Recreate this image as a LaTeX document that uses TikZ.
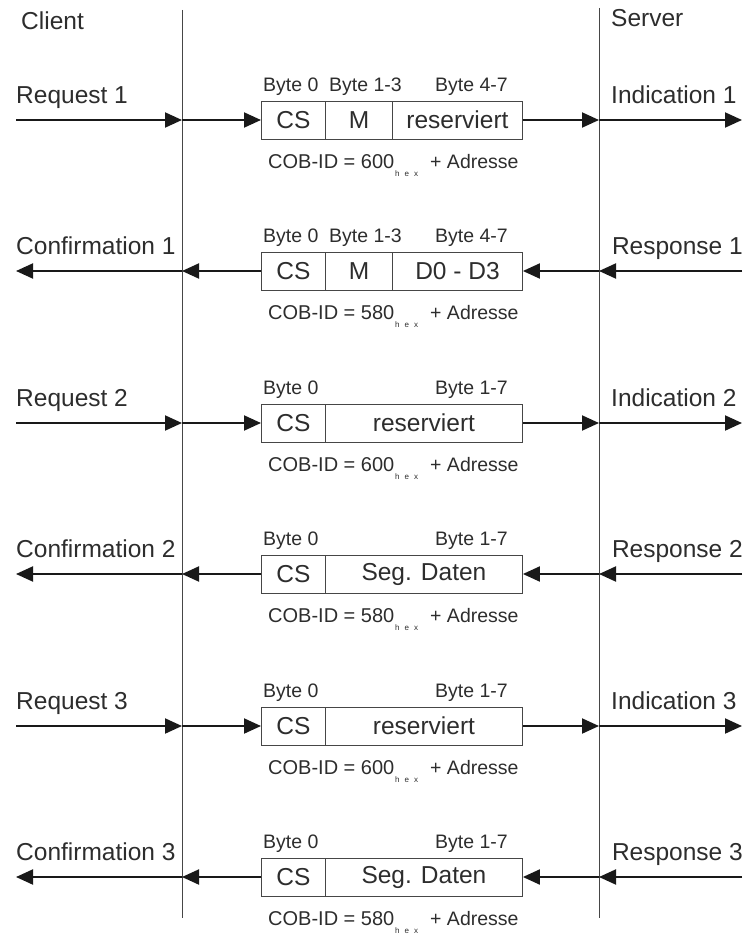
\documentclass[tikz,border=0pt]{standalone}
\usepackage{fontspec}
\setmainfont{Liberation Sans}
\usetikzlibrary{arrows.meta}
\definecolor{ink}{RGB}{45,45,45}
\definecolor{rule}{RGB}{70,70,70}
\definecolor{arrowink}{RGB}{25,25,25}
\begin{document}
\begin{tikzpicture}[x=1pt,y=-1pt,
  big/.style={font=\fontsize{24.5}{28}\selectfont, text=ink, inner sep=0pt},
  small/.style={font=\fontsize{19.5}{23}\selectfont, text=ink, inner sep=0pt},
  cobtext/.style={font=\fontsize{20}{24}\selectfont, text=ink, inner sep=0pt},
  tiny/.style={font=\fontsize{8}{9}\selectfont, text=ink, inner sep=0pt},
  cell/.style={draw=rule, line width=0.9pt, minimum height=38pt, inner sep=0pt,
    font=\fontsize{24.5}{28}\selectfont, text=ink, anchor=west},
  lifeline/.style={draw=rule, line width=1pt},
  msg/.style={draw=arrowink, line width=2pt,
    -{Triangle[length=17pt,width=15pt]}}]
\useasboundingbox (0,0) rectangle (746,934);

% party names and life lines
\node[big, anchor=base west] (client) at (21,30) {Client};
\node[big, anchor=base west] (server) at (611,27) {Server};
\coordinate (ctop) at (182,10);
\coordinate (cbot) at (182,918);
\coordinate (stop) at (599,8);
\coordinate (sbot) at (599,918);
\draw[lifeline] (ctop) -- (cbot);
\draw[lifeline] (stop) -- (sbot);

% parts shared by every message frame
\foreach \n/\y/\cob in {1/120/600, 2/271/580, 3/423/600, 4/574/580, 5/726/600, 6/877/580} {
  \coordinate (L\n) at (182,\y);
  \coordinate (R\n) at (599,\y);
  \coordinate (lo\n) at (16,\y);
  \coordinate (ro\n) at (742,\y);
  \node[cell, minimum width=64pt] (cs\n) at (261,\y) {CS};
  \node[small, anchor=base west] (bz\n) at (263,{\y-29}) {Byte 0};
  \node[cobtext, anchor=base west] (cob\n) at (268,{\y+48}) {COB-ID = \cob};
  \node[tiny, anchor=base west] (hex\n) at (395,{\y+56}) {h\hspace{5pt}e\hspace{5pt}x};
  \node[small, anchor=base west] (adr\n) at (430,{\y+48}) {+ Adresse};
}

% frames with command specifier, multiplexer and data
\node[cell, minimum width=67pt] (m1) at (325,120) {M};
\node[cell, minimum width=130pt] (d1) at (392,120) {reserviert};
\node[cell, minimum width=67pt] (m2) at (325,271) {M};
\node[cell, minimum width=130pt] (d2) at (392,271) {D0 - D3};
\node[small, anchor=base west] (bma) at (329,91) {Byte 1-3};
\node[small, anchor=base east] (bda) at (508,91) {Byte 4-7};
\node[small, anchor=base west] (bmb) at (329,242) {Byte 1-3};
\node[small, anchor=base east] (bdb) at (508,242) {Byte 4-7};

% segment frames
\node[cell, minimum width=197pt] (d3) at (325,423) {reserviert};
\node[cell, minimum width=197pt] (d4) at (325,574) {Seg. Daten};
\node[cell, minimum width=197pt] (d5) at (325,726) {reserviert};
\node[cell, minimum width=197pt] (d6) at (325,877) {Seg. Daten};
\foreach \n/\y in {3/423, 4/574, 5/726, 6/877} {
  \node[small, anchor=base east] (bs\n) at (508,{\y-29}) {Byte 1-7};
}

% requests: client to server
\foreach \n/\y/\k in {1/120/1, 3/423/2, 5/726/3} {
  \node[big, anchor=base west] (req\n) at (16,{\y-17}) {Request \k};
  \node[big, anchor=base west] (ind\n) at (611,{\y-17}) {Indication \k};
  \draw[msg] (lo\n) -- (L\n);
  \draw[msg] (L\n) -- (cs\n.west);
  \draw[msg] (d\n.east) -- (R\n);
  \draw[msg] (R\n) -- (ro\n);
}

% responses: server to client
\foreach \n/\y/\k in {2/271/1, 4/574/2, 6/877/3} {
  \node[big, anchor=base west] (con\n) at (16,{\y-17}) {Confirmation \k};
  \node[big, anchor=base east] (res\n) at (743,{\y-17}) {Response \k};
  \draw[msg] (ro\n) -- (R\n);
  \draw[msg] (R\n) -- (d\n.east);
  \draw[msg] (cs\n.west) -- (L\n);
  \draw[msg] (L\n) -- (lo\n);
}
\end{tikzpicture}
\end{document}
